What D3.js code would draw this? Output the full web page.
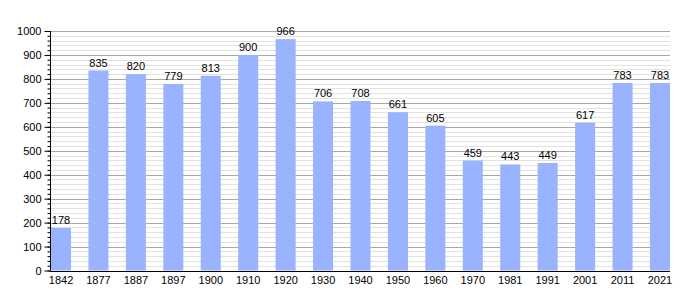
<!DOCTYPE html>
<html>
<head>
<meta charset="utf-8">
<script src="https://cdn.jsdelivr.net/npm/d3@7"></script>
<style>
  body { margin: 0; background: #fff; }
  text { font-family: "Liberation Sans", Arial, sans-serif; font-size: 11px; fill: #000; }
</style>
</head>
<body>
<svg width="700" height="300"></svg>
<script>
const years = ['1842', '1877', '1887', '1897', '1900', '1910', '1920', '1930', '1940', '1950',
  '1960', '1970', '1981', '1991', '2001', '2011', '2021'];
const population = [178, 835, 820, 779, 813, 900, 966, 706, 708, 661, 605, 459, 443, 449, 617, 783, 783];
const majorTicks = [0, 100, 200, 300, 400, 500, 600, 700, 800, 900, 1000];
const minorTicks = d3.range(0, 1001, 20);

const svg = d3.select('svg');
const plotLeft = 50, plotRight = 670, plotTop = 31, plotBottom = 270.5;

const x = d3.scaleBand()
  .domain(years)
  .range([plotLeft + 1, plotRight])
  .paddingInner(0.465)
  .paddingOuter(0);

const y = d3.scaleLinear()
  .domain([0, 1000])
  .range([plotBottom, plotTop]);

// minor grid
svg.append('g')
  .selectAll('line')
  .data(minorTicks.filter(d => d % 100 !== 0))
  .enter().append('line')
  .attr('x1', plotLeft).attr('x2', plotRight)
  .attr('y1', d => Math.round(y(d)) + 0.5).attr('y2', d => Math.round(y(d)) + 0.5)
  .attr('stroke', '#e2e2e2');

// major grid
svg.append('g')
  .selectAll('line')
  .data(majorTicks.filter(d => d > 0))
  .enter().append('line')
  .attr('x1', plotLeft).attr('x2', plotRight)
  .attr('y1', d => Math.round(y(d)) + 0.5).attr('y2', d => Math.round(y(d)) + 0.5)
  .attr('stroke', '#a8a8a8');

// bars
svg.append('g')
  .selectAll('rect')
  .data(years)
  .enter().append('rect')
  .attr('x', d => x(d))
  .attr('width', x.bandwidth())
  .attr('y', (d, i) => y(population[i]))
  .attr('height', (d, i) => plotBottom - y(population[i]))
  .attr('fill', '#99b3ff');

// value labels
svg.append('g')
  .selectAll('text')
  .data(years)
  .enter().append('text')
  .attr('x', d => x(d) + x.bandwidth() / 2)
  .attr('y', (d, i) => y(population[i]) - 4)
  .attr('text-anchor', 'middle')
  .text((d, i) => population[i]);

// y axis, minor ticks
svg.append('g')
  .attr('transform', `translate(${plotLeft + 0.5},0)`)
  .call(d3.axisLeft(y).tickValues(minorTicks).tickSize(3).tickFormat(''))
  .call(g => g.select('.domain').remove())
  .call(g => g.selectAll('line').attr('stroke', '#000'));

// y axis, major ticks + labels
svg.append('g')
  .attr('transform', `translate(${plotLeft + 0.5},0)`)
  .call(d3.axisLeft(y).tickValues(majorTicks).tickSize(6).tickPadding(3).tickFormat(d3.format('d')))
  .call(g => g.select('.domain').attr('d', `M0,${plotTop}V${plotBottom}`).attr('stroke', '#000'))
  .call(g => g.selectAll('text').style('font-size', '11px').attr('fill', '#000'))
  .call(g => g.selectAll('line').attr('stroke', '#000'));

// x axis
svg.append('g')
  .attr('transform', `translate(0,${Math.round(plotBottom) + 0.5})`)
  .call(d3.axisBottom(x).tickSize(0).tickPadding(5))
  .call(g => g.select('.domain').attr('d', `M${plotLeft},0H${plotRight}`).attr('stroke', '#000'))
  .call(g => g.selectAll('text').style('font-size', '11px').attr('fill', '#000'));
</script>
</body>
</html>
